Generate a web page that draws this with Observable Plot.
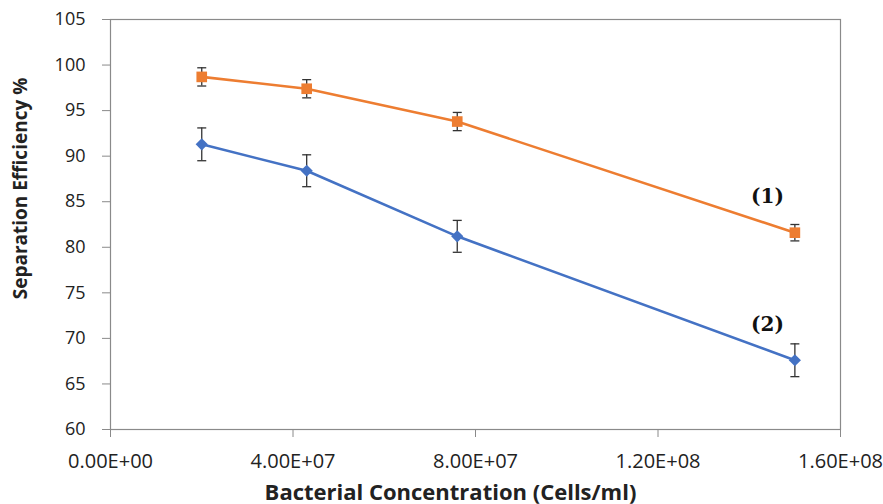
<!DOCTYPE html>
<html><head><meta charset="utf-8">
<script src="https://cdn.jsdelivr.net/npm/d3@7"></script>
<script src="https://cdn.jsdelivr.net/npm/@observablehq/plot@0.6"></script>
<style>body{margin:0;background:#fff;} svg{display:block;}</style>
</head><body><div id="chart"></div>
<script>
const concentration = [2.0e7, 4.3e7, 7.6e7, 1.5e8];
const series1 = [98.7, 97.4, 93.8, 81.6];
const error1 = [1.0, 1.0, 1.0, 0.9];
const series2 = [91.3, 88.4, 81.2, 67.6];
const error2 = [1.8, 1.75, 1.75, 1.8];
const xTicks = [0, 4e7, 8e7, 1.2e8, 1.6e8];
const xTickLabels = ["0.00E+00", "4.00E+07", "8.00E+07", "1.20E+08", "1.60E+08"];
const yTicks = [60, 65, 70, 75, 80, 85, 90, 95, 100, 105];
const annotations = [
  {x: 1.44e8, y: 85.6, text: "(1)"},
  {x: 1.44e8, y: 71.5, text: "(2)"}
];

const d1 = concentration.map((x, i) => ({x, y: series1[i], e: error1[i]}));
const d2 = concentration.map((x, i) => ({x, y: series2[i], e: error2[i]}));
const cap = {draw(ctx) { ctx.moveTo(-4.5, 0); ctx.lineTo(4.5, 0); }};
const errMarks = (d) => [
  Plot.ruleX(d, {x: "x", y1: (r) => r.y - r.e, y2: (r) => r.y + r.e, stroke: "#333", strokeWidth: 1.3}),
  Plot.dot(d, {x: "x", y: (r) => r.y + r.e, symbol: cap, stroke: "#333", strokeWidth: 1.3, fill: "none"}),
  Plot.dot(d, {x: "x", y: (r) => r.y - r.e, symbol: cap, stroke: "#333", strokeWidth: 1.3, fill: "none"})
];

const chart = Plot.plot({
  width: 883, height: 504,
  marginLeft: 110, marginRight: 43, marginTop: 19, marginBottom: 75,
  style: {fontFamily: "'Open Sans', sans-serif", background: "#fff", color: "#222"},
  x: {domain: [0, 1.6e8]},
  y: {domain: [60, 105]},
  marks: [
    Plot.frame({stroke: "#8a8a8a", strokeWidth: 1.2}),
    Plot.axisY({ticks: yTicks, tickSize: 8, tickPadding: 17, fontSize: 18, label: null, stroke: "#8a8a8a", fill: "#222"}),
    Plot.axisX({ticks: xTicks, tickFormat: (d) => xTickLabels[xTicks.indexOf(d)], tickSize: 8, tickPadding: 16, fontSize: 20, label: null, stroke: "#8a8a8a", fill: "#222"}),
    Plot.text(["Bacterial Concentration (Cells/ml)"], {frameAnchor: "bottom", dx: -25, dy: 70, fontSize: 22, fontWeight: "bold", fill: "#222"}),
    Plot.text(["Separation Efficiency %"], {frameAnchor: "left", textAnchor: "middle", dx: -90, dy: -36, rotate: -90, fontSize: 19, fontWeight: "bold", fill: "#222"}),
    ...errMarks(d1),
    ...errMarks(d2),
    Plot.line(d1, {x: "x", y: "y", stroke: "#ED7D31", strokeWidth: 2.6}),
    Plot.line(d2, {x: "x", y: "y", stroke: "#4472C4", strokeWidth: 2.6}),
    Plot.dot(d1, {x: "x", y: "y", symbol: "square", r: 6, fill: "#ED7D31"}),
    Plot.dot(d2, {x: "x", y: "y", symbol: "diamond2", r: 5.5, fill: "#4472C4"}),
    Plot.text(annotations, {x: "x", y: "y", text: "text", fontSize: 20, fontWeight: "bold", fontFamily: "DejaVu Serif, serif", fill: "#111"})
  ]
});
document.getElementById("chart").appendChild(chart);
</script></body></html>
